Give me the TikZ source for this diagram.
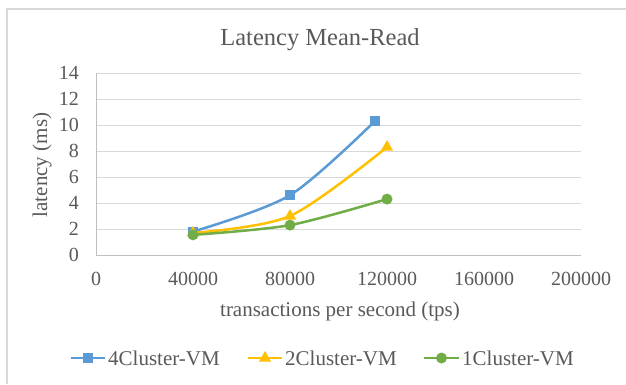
\documentclass[tikz,border=0pt]{standalone}
\usepackage{fontspec}
\setmainfont{Liberation Serif}
\usetikzlibrary{shapes,positioning,calc}
\definecolor{txtgray}{RGB}{89,89,89}
\definecolor{gridgray}{RGB}{217,217,217}
\definecolor{axisgray}{RGB}{191,191,191}
\definecolor{vmblue}{RGB}{91,155,213}
\definecolor{vmyellow}{RGB}{255,192,0}
\definecolor{vmgreen}{RGB}{112,173,71}
\tikzset{
  txt/.style={text=txtgray, inner sep=0pt, font=\fontsize{20}{22}\selectfont},
  bigtxt/.style={txt, font=\fontsize{21}{23}\selectfont},
  series/.style={line width=2.5pt, line cap=round, line join=round},
  sqmark/.style={rectangle, fill=#1, minimum size=10pt, inner sep=0pt},
  trimark/.style={regular polygon, regular polygon sides=3, fill=#1, minimum size=14pt, inner sep=0pt},
  dotmark/.style={circle, fill=#1, minimum size=11pt, inner sep=0pt}
}

\begin{document}
\begin{tikzpicture}[x=1pt, y=1pt]
    \useasboundingbox (0,0) rectangle (626,384);
    % chart frame
    \draw[gridgray, line width=1.2pt] (7,0) -- (7,375) -- (626,375);

    % titles
    \node[txt, font=\fontsize{24.5}{27}\selectfont, anchor=base] (title) at (320,338) {Latency Mean-Read};
    \node[bigtxt, anchor=base] (xlabel) at (340,68) {transactions per second (tps)};
    \node[bigtxt, anchor=base, rotate=90] (ylabel) at (47,219) {latency (ms)};

    % plot area, x in thousands of tps
    \begin{scope}[shift={(96,129)}, x=2.425pt, y=13pt]
        \foreach \y in {2,4,...,14}
            \draw[gridgray, line width=1pt] (0,\y) -- (200,\y);
        \draw[axisgray, line width=1pt] (0,0) -- (200,0);
        \draw[axisgray, line width=1pt] (0,0) -- (0,14);
        \foreach \y in {0,2,...,14}
            \node[txt, anchor=east, xshift=-17pt] (yt\y) at (0,\y) {\y};
        \foreach \x/\lab in {0/0,40/40000,80/80000,120/120000,160/160000,200/200000}
            \node[txt, yshift=-24pt] (xt\x) at (\x,0) {\lab};

        % 4Cluster-VM
        \draw[vmblue, series] plot[smooth] coordinates {(40,1.8) (80,4.6) (115,10.3)};
        \node[sqmark=vmblue] (a1) at (40,1.8) {};
        \node[sqmark=vmblue] (a2) at (80,4.6) {};
        \node[sqmark=vmblue] (a3) at (115,10.3) {};
        % 2Cluster-VM
        \draw[vmyellow, series] plot[smooth] coordinates {(40,1.7) (80,3.0) (120,8.3)};
        \node[trimark=vmyellow] (b1) at (40,1.7) {};
        \node[trimark=vmyellow] (b2) at (80,3.0) {};
        \node[trimark=vmyellow] (b3) at (120,8.3) {};
        % 1Cluster-VM
        \draw[vmgreen, series] plot[smooth] coordinates {(40,1.55) (80,2.3) (120,4.3)};
        \node[dotmark=vmgreen] (c1) at (40,1.55) {};
        \node[dotmark=vmgreen] (c2) at (80,2.3) {};
        \node[dotmark=vmgreen] (c3) at (120,4.3) {};
    \end{scope}

    % legend
    \coordinate (la) at (71,26);  \coordinate (lb) at (105,26);
    \draw[vmblue, line width=2.5pt] (la) -- (lb);
    \node[sqmark=vmblue] (lam) at ($(la)!0.5!(lb)$) {};
    \node[bigtxt, anchor=base west] (lat) at (108,19) {4Cluster-VM};
    \coordinate (lc) at (248,26); \coordinate (ld) at (282,26);
    \draw[vmyellow, line width=2.5pt] (lc) -- (ld);
    \node[trimark=vmyellow] (lcm) at ($(lc)!0.5!(ld)$) {};
    \node[bigtxt, anchor=base west] (lct) at (285,19) {2Cluster-VM};
    \coordinate (le) at (424,26); \coordinate (lf) at (459,26);
    \draw[vmgreen, line width=2.5pt] (le) -- (lf);
    \node[dotmark=vmgreen] (lem) at ($(le)!0.5!(lf)$) {};
    \node[bigtxt, anchor=base west] (let) at (462,19) {1Cluster-VM};
\end{tikzpicture}
\end{document}
